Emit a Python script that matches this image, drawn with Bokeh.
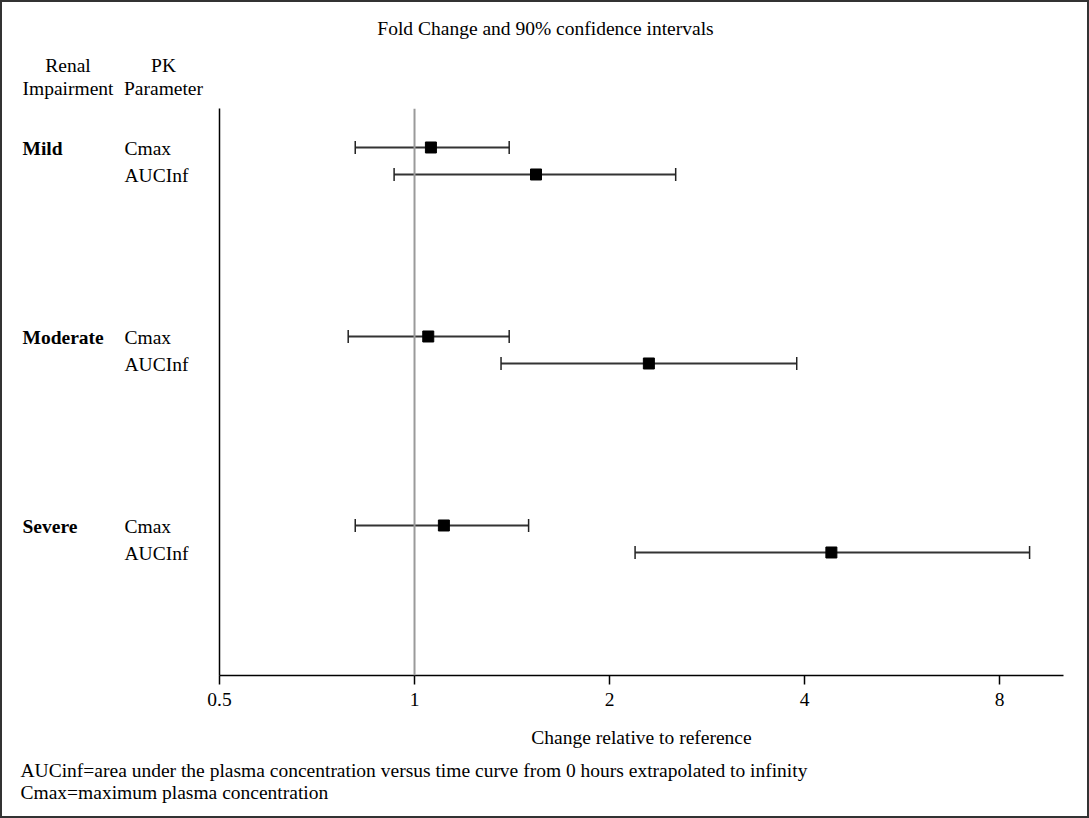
from bokeh.plotting import figure
from bokeh.layouts import column, row
from bokeh.models import (Span, Whisker, TeeHead, ColumnDataSource,
                          FixedTicker, Range1d)
from bokeh.core.properties import value
from bokeh.embed import file_html
from bokeh.resources import INLINE

# ---------------- data ----------------
groups = ["Mild", "Moderate", "Severe"]
params = ["Cmax", "AUCInf"]
estimate = [1.06, 1.54, 1.05, 2.30, 1.11, 4.40]
lower = [0.81, 0.93, 0.79, 1.36, 0.81, 2.19]
upper = [1.40, 2.53, 1.40, 3.89, 1.50, 8.90]
x_ticks = [0.5, 1, 2, 4, 8]
title_text = "Fold Change and 90% confidence intervals"
col_headers = [("Renal", "Impairment"), ("PK", "Parameter")]
x_label = "Change relative to reference"
footnotes = [
    "AUCinf=area under the plasma concentration versus time curve from 0 hours extrapolated to infinity",
    "Cmax=maximum plasma concentration",
]

FONT = "Liberation Serif"
FS = "19.5px"
W, H = 1089, 818

# ---------------- layout geometry (pixels) ----------------
TOP_H = 100          # title / header strip
MID_H = 655          # main plot strip
BOT_H = H - TOP_H - MID_H
LEFT_W = 200
MAIN_W = W - LEFT_W
MB_TOP, MB_BOTTOM, MB_LEFT, MB_RIGHT = 8, 80, 19, 26

# row positions: 7 slots per group, 2 rows each
ypos = [7 * g + r for g in range(len(groups)) for r in range(len(params))]
y_range = Range1d(19.556, -1.444)

src = ColumnDataSource(dict(y=ypos, est=estimate, lo=lower, hi=upper))


def blank(w, h, xr, yr, **kw):
    f = figure(width=w, height=h, x_range=xr, y_range=yr,
               output_backend="svg", toolbar_location=None,
               x_axis_location=None, y_axis_location=None, **kw)
    f.outline_line_color = None
    f.xgrid.visible = False
    f.ygrid.visible = False
    f.background_fill_color = "white"
    f.border_fill_color = "white"
    return f


def txt(f, xs, ys, texts, align="left", bold=False, dy=0):
    f.text(x=xs, y=ys, text=texts, text_font=value(FONT),
           text_font_size=value(FS), text_color="black",
           text_align=align, text_baseline="middle", y_offset=dy,
           text_font_style="bold" if bold else "normal")


# ---------------- top strip ----------------
top = blank(W, TOP_H, Range1d(0, W), Range1d(TOP_H, 0), min_border=0)
txt(top, [545], [28], [title_text], align="center")
txt(top, [67.5, 163], [65, 65], [c[0] for c in col_headers], align="center")
txt(top, [67.5, 163], [88, 88], [c[1] for c in col_headers], align="center")

# ---------------- left label strip (shares the row scale) ----------------
left = blank(LEFT_W, MID_H, Range1d(0, LEFT_W), y_range,
             min_border_left=0, min_border_right=0,
             min_border_top=MB_TOP, min_border_bottom=MB_BOTTOM)
txt(left, [22] * len(groups), ypos[::2], groups, bold=True, dy=1.5)
txt(left, [124] * len(ypos), ypos,
    [params[i % len(params)] for i in range(len(ypos))], dy=1.5)

# ---------------- main plot ----------------
p = figure(width=MAIN_W, height=MID_H, x_axis_type="log",
           x_range=Range1d(0.5, 10.04), y_range=y_range,
           output_backend="svg", toolbar_location=None,
           min_border_left=MB_LEFT, min_border_right=MB_RIGHT,
           min_border_top=MB_TOP, min_border_bottom=MB_BOTTOM)
p.outline_line_color = None
p.xgrid.visible = False
p.ygrid.visible = False
p.background_fill_color = "white"
p.border_fill_color = "white"

p.add_layout(Span(location=1, dimension="height", line_color="#9a9a9a", line_width=2))

w = Whisker(base="y", lower="lo", upper="hi", dimension="width", source=src,
            line_color="#333333", line_width=2,
            upper_head=TeeHead(size=13, line_color="#222222", line_width=1.5),
            lower_head=TeeHead(size=13, line_color="#222222", line_width=1.5))
p.add_layout(w)

p.scatter(x="est", y="y", source=src, marker="square", size=11,
          fill_color="black", line_color="black")

p.xaxis.ticker = FixedTicker(ticks=x_ticks)
p.xaxis.major_label_overrides = {float(t): str(t) for t in x_ticks}
p.xaxis.major_tick_out = 9
p.xaxis.major_tick_in = 0
p.xaxis.minor_tick_line_color = None
p.xaxis.axis_line_color = "black"
p.xaxis.axis_line_width = 1.5
p.xaxis.major_tick_line_color = "black"
p.xaxis.major_tick_line_width = 1.5
p.xaxis.major_label_text_font = FONT
p.xaxis.major_label_text_font_size = FS
p.xaxis.major_label_text_color = "black"
p.xaxis.major_label_standoff = 8
p.xaxis.axis_label = x_label
p.xaxis.axis_label_text_font = FONT
p.xaxis.axis_label_text_font_size = FS
p.xaxis.axis_label_text_font_style = "normal"
p.xaxis.axis_label_text_color = "black"
p.xaxis.axis_label_standoff = 18

p.yaxis.ticker = FixedTicker(ticks=[])
p.yaxis.major_tick_line_color = None
p.yaxis.minor_tick_line_color = None
p.yaxis.major_label_text_font_size = "0px"
p.yaxis.axis_line_color = "black"
p.yaxis.axis_line_width = 1.5

# ---------------- bottom strip ----------------
bot = blank(W, BOT_H, Range1d(0, W), Range1d(BOT_H, 0), min_border=0)
txt(bot, [20, 20], [15, 37], footnotes)

layout = column(top, row(left, p), bot)
layout.stylesheets = [
    ":host::after { content: ''; position: absolute; left: 0; top: 0; "
    "width: 1089px; height: 818px; box-sizing: border-box; "
    "border: 2px solid #333333; pointer-events: none; z-index: 100; }"
]

open("out.html", "w").write(file_html(layout, INLINE))
